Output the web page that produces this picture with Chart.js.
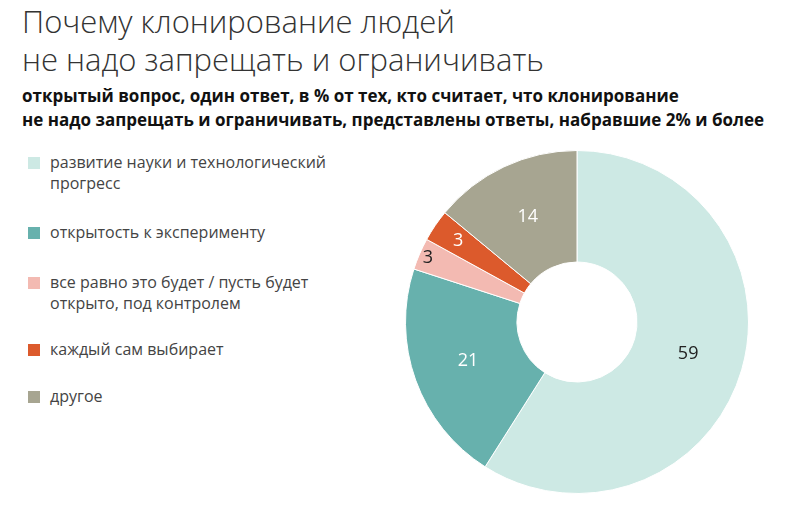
<!DOCTYPE html>
<html>
<head>
<meta charset="utf-8">
<script src="https://cdn.jsdelivr.net/npm/chart.js@4"></script>
<style>
  body { margin: 0; background: #fff; font-family: "Open Sans", "Noto Sans", sans-serif; color: #222; }
  #wrap { position: relative; width: 800px; height: 507px; overflow: hidden; }
  h1 { position: absolute; left: 22px; top: 2px; margin: 0; font-weight: 300; font-size: 31px; line-height: 38px; color: #333; }
  h2 { position: absolute; left: 22px; top: 84px; margin: 0; font-weight: 700; font-size: 17px; line-height: 24px; color: #111; }
  .leg { position: absolute; left: 28px; font-size: 16px; line-height: 21px; color: #444; }
  .leg span { position: absolute; left: 0; top: 5px; width: 12px; height: 12px; }
  .leg div { margin-left: 22px; }
  #holder { position: absolute; left: 400px; top: 145px; width: 354px; height: 354px; }
</style>
</head>
<body>
<div id="wrap">
  <h1>Почему клонирование людей<br>не надо запрещать и ограничивать</h1>
  <h2>открытый вопрос, один ответ, в % от тех, кто считает, что клонирование<br>не надо запрещать и ограничивать, представлены ответы, набравшие 2% и более</h2>
  <div id="legend"></div>
  <div id="holder"><canvas id="chart"></canvas></div>
</div>
<script>
// categories and values
const categories = [
    'развитие науки и технологический<br>прогресс',
    'открытость к эксперименту',
    'все равно это будет / пусть будет<br>открыто, под контролем',
    'каждый сам выбирает',
    'другое'
];
const values = [59, 21, 3, 3, 14];
const colors = ['#cde9e4', '#67b1ad', '#f3bab2', '#dc5a2c', '#a7a591'];
const legendTops = [152, 222, 272, 339, 386];

// legend
const legend = document.getElementById('legend');
categories.forEach(function(name, i) {
    const item = document.createElement('div');
    item.className = 'leg';
    item.style.top = legendTops[i] + 'px';
    item.innerHTML = '<span style="background:' + colors[i] + '"></span><div>' + name + '</div>';
    legend.appendChild(item);
});

// value labels inside slices; small slices get pushed outward
const labelRadius = [0.5, 0.5, 0.92, 0.75, 0.5];
const sliceLabels = {
    id: 'sliceLabels',
    afterDatasetsDraw(chart) {
        const ctx = chart.ctx;
        const meta = chart.getDatasetMeta(0);
        ctx.save();
        ctx.font = '18px "Open Sans", sans-serif';
        ctx.textAlign = 'center';
        ctx.textBaseline = 'middle';
        meta.data.forEach(function(arc, i) {
            const a = (arc.startAngle + arc.endAngle) / 2;
            const r = arc.innerRadius + (arc.outerRadius - arc.innerRadius) * labelRadius[i];
            ctx.fillStyle = (i === 1 || i === 3 || i === 4) ? '#fff' : '#222';
            ctx.fillText(values[i], arc.x + Math.cos(a) * r, arc.y + Math.sin(a) * r);
        });
        ctx.restore();
    }
};

const ctx = document.getElementById('chart').getContext('2d');
new Chart(ctx, {
    type: 'doughnut',
    data: {
        labels: categories,
        datasets: [{
            data: values,
            backgroundColor: colors,
            borderColor: '#fff',
            borderWidth: 1
        }]
    },
    options: {
        responsive: true,
        maintainAspectRatio: false,
        animation: false,
        cutout: '35%',
        layout: { padding: 5 },
        plugins: {
            legend: { display: false },
            tooltip: { enabled: false }
        }
    },
    plugins: [sliceLabels]
});
</script>
</body>
</html>
